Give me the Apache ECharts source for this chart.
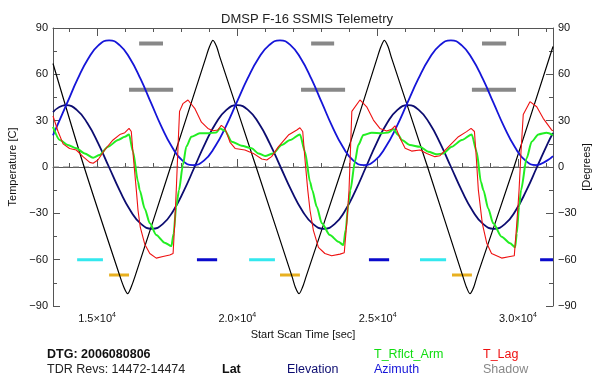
<!DOCTYPE html>
<html><head><meta charset="utf-8">
<script src="https://cdn.jsdelivr.net/npm/echarts@6/dist/echarts.min.js"></script>
<style>html,body{margin:0;padding:0;background:#fff}#c{width:595px;height:379px}</style>
</head><body><div id="c"></div>
<script>
// ---- axis settings / tick labels ----
const xMin = 13430, xMax = 31250;
const xMajor = [15000, 20000, 25000, 30000];
const xMajorText = ['1.5', '2.0', '2.5', '3.0'];
const xMinor = [14000,16000,17000,18000,19000,21000,22000,23000,24000,26000,27000,28000,29000,31000];
const yMin = -90, yMax = 90, yStep = 30;

// ---- series values [time sec, value] ----
const lat = [[13430,67],[14540,0],[15820,-71],[15960,-78],[16090,-82],[16210,-78],[16350,-71],[17620,0],
 [18880,71],[19010,78],[19130,82],[19260,78],[19380,71],[20670,0],[21950,-71],[22070,-78],[22200,-82],
 [22320,-78],[22450,-71],[23750,0],[24990,71],[25120,78],[25240,82],[25370,78],[25490,71],[26780,0],
 [28040,-71],[28170,-78],[28290,-82],[28420,-78],[28540,-71],[29860,0],[31250,78]];

const elevation = [[13430,35.6],[13890,40],
 [14274,37],[14658,28.3],[15041,15.3],[15425,0],[15809,-15.3],[16193,-28.3],[16576,-37],[16960,-40],
 [17339,-37],[17718,-28.3],[18096,-15.3],[18475,0],[18854,15.3],[19233,28.3],[19611,37],[19990,40],
 [20378,37],[20765,28.3],[21153,15.3],[21540,0],[21928,-15.3],[22315,-28.3],[22703,-37],[23090,-40],
 [23464,-37],[23838,-28.3],[24211,-15.3],[24585,0],[24959,15.3],[25333,28.3],[25706,37],[26080,40],
 [26464,37],[26848,28.3],[27231,15.3],[27615,0],[27999,-15.3],[28383,-28.3],[28766,-37],[29150,-40],
 [29533,-37],[29915,-28.3],[30298,-15.3],[30680,0],[31063,15.3],[31250,22]];

const azimuth = [[13430,20.5],[13561,26],[13935,41.5],[14309,57],[14683,70.1],[15056,78.9],[15430,82],
 [15804,78.9],[16178,70.1],[16551,57],[16925,41.5],[17299,26],[17673,12.9],[18046,4.1],[18420,1.2],
 [18808,4.1],[19195,12.9],[19583,26],[19970,41.5],[20358,57],[20745,70.1],[21133,78.9],[21520,82],
 [21894,78.9],[22268,70.1],[22641,57],[23015,41.5],[23389,26],[23763,12.9],[24136,4.1],[24510,1.2],
 [24898,4.1],[25285,12.9],[25673,26],[26060,41.5],[26448,57],[26835,70.1],[27223,78.9],[27610,82],
 [27990,78.9],[28370,70.1],[28750,57],[29130,41.5],[29510,26],[29890,12.9],[30270,4.1],[30650,1.2],
 [31035,4.1],[31250,7]];

const tRflctArm = [[13430,26],[13670,17.5],[13960,14.2],[14260,12.1],[14560,8.8],[14860,6],[15090,7.7],
 [15390,13.1],[15750,17.5],[15990,19.6],[16140,21.1],[16280,10],[16460,-9.5],[16520,-15],[16700,-27],
 [16880,-36.5],[17110,-44],[17410,-49],[17650,-51.2],[17730,-43],[17820,-25.7],[17920,-15],[18060,1.3],
 [18180,13.1],[18360,19.6],[18660,21.8],[18950,21.8],[19250,22.4],[19380,25],[19560,23.5],[19800,16.4],
 [20150,13.8],[20510,12.1],[20750,8.8],[20990,7.1],[21280,8.8],[21580,14.2],[21880,17.5],[22230,21.1],
 [22410,9.9],[22590,-9.5],[22670,-15],[22830,-25.7],[23010,-36.5],[23300,-44.1],[23600,-48.4],
 [23780,-50.5],[23860,-40.8],[23960,-23.5],[24030,-15],[24190,3.4],[24310,14.2],[24490,20.7],
 [24790,22.2],[25150,21.8],[25380,22.4],[25560,24.4],[25740,20.7],[25860,17.5],[26150,14.2],
 [26510,13.1],[26810,9.9],[27100,8.2],[27340,8.8],[27640,13.1],[28000,17.5],[28350,21.1],[28530,9.9],
 [28680,-9.5],[28770,-15],[28940,-26.8],[29120,-36.5],[29420,-45.2],[29720,-49.4],[29900,-52],
 [29960,-43],[30040,-25.7],[30110,-15],[30310,5.6],[30490,16.4],[30730,21.1],[31020,22.2],[31250,20.7]];

const tLag = [[13430,33],[13610,23],[13790,15],[14020,12],[14260,11],[14500,6.7],[14740,3],[14860,2.4],
 [15030,4.5],[15270,11],[15570,17.5],[15810,21],[15990,22.2],[16140,25],[16220,23],[16300,5],[16400,-15],
 [16460,-28],[16540,-39],[16700,-50],[16880,-56],[17110,-59],[17350,-58],[17590,-57],[17710,-56],
 [17770,-36],[17830,-12],[17890,15],[17940,36],[18060,41],[18240,43.4],[18480,38],[18720,29],[18950,25],
 [19130,23.5],[19310,24],[19430,27],[19560,25],[19740,16],[19920,12],[20270,11],[20570,8.8],[20870,5.2],
 [21050,4.5],[21220,6.7],[21460,13],[21820,20.7],[22120,24],[22230,25.4],[22330,23],[22410,5],
 [22510,-15],[22590,-28],[22710,-41],[22890,-52],[23120,-56],[23360,-57.5],[23660,-56.4],[23810,-55.5],
 [23900,-36.5],[23980,-15],[24030,10],[24080,36],[24370,43.4],[24610,39],[24850,30.4],[25080,25],
 [25320,23.3],[25500,24.4],[25620,26.7],[25800,18.6],[25980,12.1],[26210,10.3],[26510,11],[26750,8.8],
 [27040,6.7],[27220,7.3],[27520,13.1],[27880,19.6],[28170,22.9],[28330,25],[28450,23],[28520,5],
 [28590,-15],[28730,-36.5],[28890,-49.4],[29060,-56],[29420,-59],[29720,-58],[29870,-57.5],[29960,-36.5],
 [30040,-15],[30110,10],[30190,34],[30430,42.3],[30670,39],[30900,31.5],[31200,24],[31250,23.5]];

// shadow / marker segments [start, end] and their levels
const shadowUpper = [[16500,17350],[22630,23450],[28720,29580]];
const shadowLower = [[16140,17710],[22270,23840],[28360,29930]];
const shadowUpperLevel = 80, shadowLowerLevel = 50;
const cyanSegs = [[14290,15210],[20420,21340],[26510,27440]];
const blueSegs = [[18560,19280],[24690,25410],[30790,31250]];
const orangeSegs = [[15430,16140],[21520,22230],[27650,28360]];
const markLevel1 = -60, markLevel2 = -70;

// ---- build ----
function segs(list, level) {
  const d = [];
  list.forEach(([a, b]) => { d.push([a, level], [b, level], [b, '-']); });
  return d;
}
const FF = 'Liberation Sans, Arial, sans-serif';
const axisColor = '#555';
const txt = '#111';
const minus = v => String(v).replace('-', '\u2212');

const baseX = {type:'value', min:xMin, max:xMax, splitLine:{show:false}, gridIndex:0};
const chart = echarts.init(document.getElementById('c'), null, {renderer:'canvas'});
const line = (name, data, color, width, yIdx, extra) => Object.assign({
  name, type:'line', data, yAxisIndex:yIdx, showSymbol:false, symbol:'none', silent:true,
  lineStyle:{color, width, cap:'butt'}, animation:false
}, extra || {});

chart.setOption({
  animation:false,
  backgroundColor:'#fff',
  title:{text:'DMSP F-16 SSMIS Telemetry', left:302, top:8, textAlign:'center',
    textStyle:{fontFamily:FF, fontSize:13, fontWeight:'normal', color:'#222'}},
  grid:{left:53, right:42, top:28, bottom:73, containLabel:false, outerBoundsMode:'none'},
  xAxis:[
    Object.assign({}, baseX, {position:'bottom',
      axisLine:{show:true, lineStyle:{color:axisColor}},
      axisTick:{show:true, inside:true, length:8, customValues:xMajor, lineStyle:{color:axisColor}},
      axisLabel:{show:true, customValues:xMajor, margin:6,
        formatter: v => '{a|' + xMajorText[xMajor.indexOf(v)] + '\u00d710}{b|4}',
        rich:{a:{fontFamily:FF, fontSize:11, color:txt}, b:{fontFamily:FF, fontSize:7, color:txt, padding:[0,0,7,0]}}},
      name:'Start Scan Time [sec]', nameLocation:'middle', nameGap:19,
      nameTextStyle:{fontFamily:FF, fontSize:11, color:txt}}),
    Object.assign({}, baseX, {position:'bottom', axisLine:{show:false},
      axisTick:{show:true, inside:true, length:4, customValues:xMinor, lineStyle:{color:axisColor}},
      axisLabel:{show:false}}),
    Object.assign({}, baseX, {position:'top', axisLine:{show:true, lineStyle:{color:axisColor}},
      axisTick:{show:true, inside:true, length:8, customValues:xMajor, lineStyle:{color:axisColor}},
      axisLabel:{show:false}}),
    Object.assign({}, baseX, {position:'top', axisLine:{show:false},
      axisTick:{show:true, inside:true, length:4, customValues:xMinor, lineStyle:{color:axisColor}},
      axisLabel:{show:false}})
  ],
  yAxis:[
    {type:'value', min:yMin, max:yMax, interval:yStep, position:'left',
     axisLine:{show:true, lineStyle:{color:axisColor}},
     axisTick:{show:true, inside:true, length:7, lineStyle:{color:axisColor}},
     minorTick:{show:true, splitNumber:2, length:4, lineStyle:{color:axisColor}},
     axisLabel:{fontFamily:FF, fontSize:11, color:txt, margin:5, formatter:minus},
     splitLine:{show:false},
     name:'Temperature [C]', nameLocation:'middle', nameGap:33, nameRotate:90,
     nameTextStyle:{fontFamily:FF, fontSize:11, color:txt}},
    {type:'value', min:yMin, max:yMax, interval:yStep, position:'right',
     axisLine:{show:true, lineStyle:{color:axisColor}},
     axisTick:{show:true, inside:true, length:7, lineStyle:{color:axisColor}},
     minorTick:{show:true, splitNumber:2, length:4, lineStyle:{color:axisColor}},
     axisLabel:{fontFamily:FF, fontSize:11, color:txt, margin:5, formatter:minus},
     splitLine:{show:false}}
  ],
  series:[
    line('zero', [[xMin,0],[xMax,0]], '#777', 1, 0, {lineStyle:{color:'#777', width:1, type:[6,4]}}),
    line('ShadowU', segs(shadowUpper, shadowUpperLevel), '#888', 4, 1),
    line('ShadowL', segs(shadowLower, shadowLowerLevel), '#888', 4, 1),
    line('cyan', segs(cyanSegs, markLevel1), '#33e8ee', 3, 1),
    line('blueSeg', segs(blueSegs, markLevel1), '#0a0acc', 3, 1),
    line('orange', segs(orangeSegs, markLevel2), '#e8b020', 3, 1),
    line('Lat', lat, '#000', 1.2, 1, {smooth:0.3}),
    line('Elevation', elevation, '#0c0c70', 1.8, 1, {smooth:0.5}),
    line('Azimuth', azimuth, '#1515d8', 1.8, 1, {smooth:0.5}),
    line('T_Rflct_Arm', tRflctArm, '#22ee22', 2, 0, {smooth:0.25, smoothMonotone:'x'}),
    line('T_Lag', tLag, '#ee1111', 1.1, 0)
  ],
  graphic:[
    {type:'text', x:587, y:167, rotation:Math.PI/2, style:{text:'[Degrees]', fontFamily:FF, fontSize:11, fill:txt, align:'center', verticalAlign:'middle'}},
    {type:'text', left:47, top:348, style:{text:'DTG: 2006080806', fontFamily:FF, fontSize:12.5, fontWeight:'bold', fill:'#111'}},
    {type:'text', left:47, top:363, style:{text:'TDR Revs: 14472-14474', fontFamily:FF, fontSize:12.5, fill:'#222'}},
    {type:'text', left:222, top:363, style:{text:'Lat', fontFamily:FF, fontSize:12.5, fontWeight:'bold', fill:'#111'}},
    {type:'text', left:287, top:363, style:{text:'Elevation', fontFamily:FF, fontSize:12.5, fill:'#0c0c70'}},
    {type:'text', left:374, top:348, style:{text:'T_Rflct_Arm', fontFamily:FF, fontSize:12.5, fill:'#11dd11'}},
    {type:'text', left:374, top:363, style:{text:'Azimuth', fontFamily:FF, fontSize:12.5, fill:'#1515d8'}},
    {type:'text', left:483, top:348, style:{text:'T_Lag', fontFamily:FF, fontSize:12.5, fill:'#ee1111'}},
    {type:'text', left:483, top:363, style:{text:'Shadow', fontFamily:FF, fontSize:12.5, fill:'#888'}}
  ]
});
</script></body></html>
